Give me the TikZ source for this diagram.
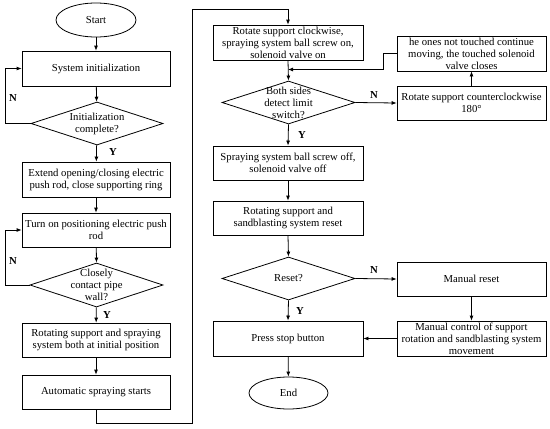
\documentclass[tikz,border=0pt]{standalone}
\usepackage{fontspec}
\setmainfont{Liberation Serif}
\usetikzlibrary{shapes.geometric,arrows.meta}
\newcommand\flowfont{\fontsize{10.7}{11.9}\selectfont}
\begin{document}
\begin{tikzpicture}[x=1pt,y=-1pt,line width=0.8pt,
  box/.style={draw,rectangle,inner sep=0pt,align=center,font=\flowfont},
  lbox/.style={box,minimum width=148pt},
  rbox/.style={box,minimum width=150pt},
  fbox/.style={box,minimum width=149pt},
  term/.style={draw,ellipse,inner sep=0pt,font=\flowfont},
  dia/.style={draw,diamond,inner sep=0pt,minimum width=133pt,minimum height=43pt},
  txt/.style={inner sep=0pt,align=center,font=\flowfont},
  lab/.style={inner sep=0pt,font=\flowfont\bfseries},
  arr/.style={-{Latex[length=5pt,width=4pt]}}]
\useasboundingbox (0,0) rectangle (550,429);
% left column
\node[term,minimum width=80pt,minimum height=34pt] (start) at (96,20) {Start};
\node[lbox,minimum height=35pt] (init) at (96,68.5) {System initialization};
\node[dia,minimum width=132pt] (d1) at (97,123.5) {};
\node[txt] (d1t) at (d1) {Initialization\\complete?};
\node[lbox,minimum height=35pt] (ext) at (96,179.5) {Extend opening/closing electric\\push rod, close supporting ring};
\node[lbox,minimum height=34pt] (turn) at (96,230) {Turn on positioning electric push\\rod};
\node[dia,minimum height=44pt] (d2) at (96.5,285) {};
\node[txt] (d2t) at (d2) {Closely\\contact pipe\\wall?};
\node[lbox,minimum height=34pt] (rot) at (96,340) {Rotating support and spraying\\system both at initial position};
\node[lbox,minimum height=34pt] (auto) at (96,392) {Automatic spraying starts};
% middle column
\node[rbox,minimum height=35pt] (cw) at (288,42.5) {Rotate support clockwise,\\spraying system ball screw on,\\solenoid valve on};
\node[dia] (d3) at (288.5,102.5) {};
\node[txt] (d3t) at (d3) {Both sides\\detect limit\\switch?};
\node[rbox,minimum height=34pt] (off) at (288,163) {Spraying system ball screw off,\\solenoid valve off};
\node[rbox,minimum height=34pt] (reset) at (288,218) {Rotating support and\\sandblasting system reset};
\node[dia] (d4) at (288.5,278.5) {};
\node[txt] (d4t) at (d4) {Reset?};
\node[rbox,minimum height=35pt] (stop) at (288,338.5) {Press stop button};
\node[term,minimum width=79pt,minimum height=32pt] (end) at (288.5,393) {End};
% right column
\node[fbox,minimum height=35pt] (touched) at (471.5,53.5) {he ones not touched continue\\moving, the touched solenoid\\valve closes};
\node[fbox,minimum height=34pt] (ccw) at (471.5,103) {Rotate support counterclockwise\\180°};
\node[fbox,minimum height=34pt] (manual) at (471.5,279) {Manual reset};
\node[fbox,minimum height=35pt] (mctrl) at (471.5,338.5) {Manual control of support\\rotation and sandblasting system\\movement};
% helper coordinates
\coordinate (l1) at (5,123.5);
\coordinate (l2) at (5,285);
\coordinate (c1) at (192,423);
\coordinate (c2) at (192,9);
\coordinate (k1) at (383,53.5);
\coordinate (m1) at (288,69.5);
% connectors
\draw[arr] (start) -- (init);
\draw[arr] (init) -- (d1);
\draw[arr] (d1) -- (ext);
\draw[arr] (ext) -- (turn);
\draw[arr] (turn) -- (d2.north);
\draw[arr] (d2) -- (rot);
\draw[arr] (rot) -- (auto);
\draw[arr] (d1.west) -- (l1) |- (init.west);
\draw[arr] (d2.west) -- (l2) |- (turn.west);
\draw[arr] (auto.south) |- (c1) |- (c2) -| (cw.north);
\draw[arr] (cw.south) -- (d3.north);
\draw[arr] (touched.west) -- (k1) |- (m1);
\draw[arr] (d3.east) -- (ccw.west);
\draw[arr] (ccw.north) -- (touched.south);
\draw[arr] (d3.south) -- (off.north);
\draw[arr] (off) -- (reset);
\draw[arr] (reset.south) -- (d4.north);
\draw[arr] (d4.east) -- (manual.west);
\draw[arr] (manual) -- (mctrl);
\draw[arr] (mctrl.west) -- (stop.east);
\draw[arr] (d4.south) -- (stop.north);
\draw[arr] (stop) -- (end);
% labels
\node[lab] (n1) at (13,98) {N};
\node[lab] (n2) at (13,261) {N};
\node[lab] (n3) at (374,95) {N};
\node[lab] (n4) at (374,270) {N};
\node[lab] (y1) at (113,152) {Y};
\node[lab] (y2) at (107,315) {Y};
\node[lab] (y3) at (302,135) {Y};
\node[lab] (y4) at (300,311) {Y};
\end{tikzpicture}
\end{document}
